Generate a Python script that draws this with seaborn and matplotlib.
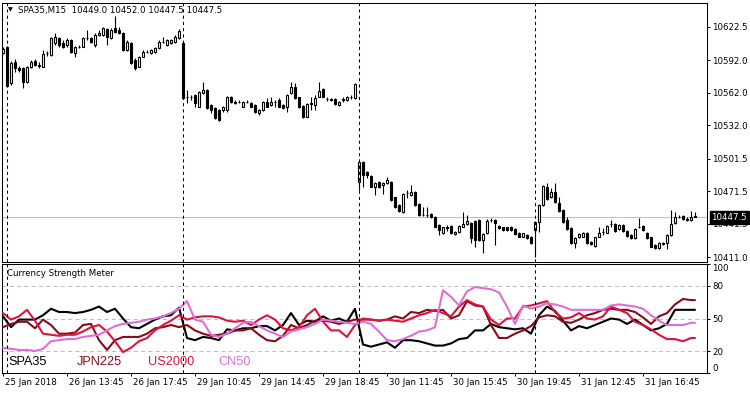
import matplotlib
matplotlib.use("Agg")
import matplotlib.pyplot as plt
import matplotlib.transforms as mtransforms
import numpy as np
import pandas as pd
import seaborn as sns

# ---------------- DATA ----------------
symbol_title = "SPA35,M15  10449.0 10452.0 10447.5 10447.5"
last_price = 10447.5

opens = [
    10598.9, 10604.4, 10570.7, 10590.6, 10585.1, 10584.5, 10572.2, 10586.0, 10591.5, 10587.5,
    10586.0, 10598.3, 10596.7, 10607.5, 10612.1, 10608.1, 10605.9, 10610.5, 10598.9, 10603.8,
    10604.4, 10612.1, 10612.1, 10605.9, 10615.1, 10615.1, 10620.3, 10612.1, 10621.2, 10619.7,
    10616.8, 10601.3, 10608.1, 10592.1, 10586.0, 10595.2, 10599.2, 10598.3, 10599.8, 10602.9,
    10608.4, 10605.9, 10607.5, 10609.0, 10612.1, 10607.5, 10558.4, 10558.4, 10559.9, 10549.2,
    10561.5, 10564.6, 10550.8, 10547.7, 10546.2, 10546.2, 10546.2, 10558.4, 10553.8, 10553.8,
    10549.2, 10553.8, 10552.3, 10550.8, 10543.1, 10546.2, 10553.8, 10550.8, 10553.8, 10555.4,
    10550.8, 10549.2, 10561.5, 10567.0, 10557.8, 10549.8, 10540.0, 10552.3, 10550.8, 10558.4,
    10565.2, 10556.3, 10556.0, 10556.0, 10550.8, 10556.0, 10555.4, 10558.4, 10556.9,
    10479.7, 10498.7, 10489.5, 10485.5, 10475.7, 10480.3, 10477.2, 10478.8, 10480.3, 10465.9,
    10458.8, 10452.7, 10470.2, 10468.0, 10471.1, 10459.8, 10449.6, 10449.6, 10450.6, 10448.1,
    10440.5, 10432.8, 10438.3, 10439.5, 10432.2, 10434.3, 10438.9, 10441.4, 10442.0, 10444.4,
    10445.0, 10426.7, 10432.8, 10445.0, 10445.0, 10439.5, 10438.3, 10438.3, 10438.9, 10436.5,
    10433.4, 10429.7, 10431.3, 10429.7, 10435.9, 10443.5, 10458.8, 10475.7, 10465.9, 10471.1,
    10461.0, 10454.2, 10445.0, 10437.4, 10423.6, 10429.1, 10429.7, 10433.4, 10425.1, 10421.1,
    10429.7, 10434.3, 10433.4, 10441.4, 10441.4, 10436.5, 10440.5, 10435.2, 10431.3, 10428.2,
    10438.9, 10439.5, 10433.4, 10429.1, 10422.1, 10419.0, 10423.0, 10424.2, 10431.3, 10442.0,
    10448.1, 10448.7, 10445.7, 10445.0, 10449.0,
]
highs = [
    10604.4, 10605.0, 10591.5, 10592.7, 10586.6, 10586.0, 10586.6, 10592.1, 10592.7, 10590.6,
    10601.3, 10600.7, 10613.6, 10617.3, 10613.0, 10610.5, 10612.1, 10611.1, 10605.0, 10605.9,
    10613.0, 10619.7, 10613.0, 10616.8, 10619.7, 10622.2, 10621.2, 10621.2, 10632.6, 10622.2,
    10618.2, 10610.5, 10609.0, 10593.7, 10595.8, 10601.3, 10601.3, 10601.9, 10603.8, 10610.5,
    10613.0, 10611.1, 10611.1, 10615.1, 10620.3, 10608.1, 10564.6, 10559.9, 10560.9, 10563.9,
    10572.2, 10565.2, 10551.7, 10548.6, 10546.8, 10549.8, 10559.0, 10559.0, 10555.4, 10555.4,
    10554.7, 10555.4, 10553.8, 10551.7, 10546.8, 10554.7, 10556.9, 10557.8, 10555.4, 10556.9,
    10551.7, 10560.9, 10572.2, 10571.3, 10558.4, 10550.8, 10552.9, 10558.4, 10559.9, 10572.2,
    10566.1, 10557.8, 10557.2, 10556.9, 10554.7, 10557.8, 10559.0, 10559.9, 10570.7,
    10499.3, 10499.3, 10490.4, 10486.4, 10480.3, 10480.9, 10480.3, 10484.9, 10481.2, 10466.5,
    10459.8, 10469.6, 10472.6, 10477.2, 10472.0, 10460.4, 10457.3, 10456.7, 10451.2, 10448.7,
    10441.4, 10438.9, 10440.5, 10440.5, 10435.2, 10440.5, 10452.7, 10449.6, 10443.5, 10445.0,
    10445.7, 10432.8, 10445.7, 10446.6, 10446.0, 10440.5, 10438.9, 10438.9, 10439.5, 10437.4,
    10434.3, 10433.4, 10432.2, 10430.3, 10444.4, 10459.8, 10477.2, 10478.8, 10474.2, 10479.4,
    10466.5, 10454.9, 10448.1, 10438.3, 10429.1, 10432.8, 10434.3, 10434.3, 10426.0, 10429.7,
    10438.9, 10437.4, 10440.5, 10445.0, 10442.6, 10441.4, 10441.4, 10435.9, 10432.2, 10437.4,
    10446.6, 10440.5, 10434.3, 10429.7, 10423.0, 10425.1, 10425.1, 10432.2, 10454.2, 10452.7,
    10449.6, 10449.6, 10447.5, 10453.6, 10452.0,
]
lows = [
    10597.6, 10567.0, 10568.8, 10581.4, 10581.4, 10566.1, 10571.3, 10584.5, 10586.6, 10584.5,
    10585.4, 10595.8, 10595.8, 10605.9, 10604.4, 10602.9, 10604.4, 10598.3, 10595.2, 10602.9,
    10603.8, 10610.5, 10608.1, 10604.4, 10614.2, 10614.2, 10605.9, 10611.1, 10617.3, 10616.0,
    10600.7, 10600.7, 10588.5, 10582.9, 10585.4, 10594.6, 10598.3, 10597.6, 10598.9, 10601.9,
    10607.5, 10605.0, 10606.8, 10608.1, 10611.1, 10556.0, 10552.3, 10555.4, 10549.2, 10548.6,
    10560.9, 10546.8, 10543.1, 10537.6, 10536.4, 10544.6, 10544.6, 10552.9, 10551.7, 10552.3,
    10548.6, 10552.3, 10548.6, 10543.7, 10541.6, 10545.5, 10548.6, 10549.8, 10549.2, 10548.6,
    10546.8, 10544.6, 10560.9, 10556.0, 10547.7, 10538.5, 10539.4, 10546.2, 10546.2, 10557.8,
    10557.8, 10554.7, 10554.1, 10551.1, 10549.8, 10553.8, 10554.7, 10556.0, 10556.0,
    10472.6, 10475.7, 10483.4, 10475.1, 10468.0, 10474.8, 10469.0, 10477.8, 10462.8, 10455.8,
    10452.7, 10451.8, 10465.0, 10467.1, 10457.9, 10448.7, 10448.7, 10448.1, 10447.2, 10438.3,
    10431.3, 10432.2, 10435.2, 10431.9, 10431.3, 10433.4, 10438.3, 10440.5, 10423.6, 10420.5,
    10426.0, 10414.4, 10432.2, 10443.5, 10422.1, 10436.5, 10435.2, 10435.2, 10435.2, 10431.3,
    10429.1, 10429.1, 10427.3, 10423.0, 10411.3, 10434.3, 10457.9, 10463.4, 10465.0, 10461.0,
    10452.7, 10442.6, 10435.9, 10423.0, 10419.0, 10428.2, 10429.1, 10423.0, 10422.1, 10420.5,
    10429.1, 10431.3, 10432.8, 10438.3, 10434.3, 10435.9, 10434.3, 10429.7, 10427.3, 10427.3,
    10437.4, 10435.2, 10427.3, 10419.9, 10418.1, 10418.1, 10422.1, 10418.1, 10430.3, 10441.4,
    10446.6, 10445.0, 10444.4, 10444.4, 10447.5,
]
closes = [
    10601.9, 10568.2, 10589.7, 10584.5, 10582.9, 10572.2, 10586.0, 10590.6, 10587.5, 10586.9,
    10597.6, 10598.9, 10612.1, 10613.0, 10605.9, 10604.4, 10610.5, 10599.8, 10603.8, 10604.4,
    10612.1, 10612.7, 10609.0, 10615.1, 10616.8, 10621.2, 10613.6, 10619.7, 10618.2, 10616.8,
    10601.3, 10609.0, 10589.1, 10584.5, 10595.2, 10599.8, 10599.8, 10601.3, 10602.9, 10609.0,
    10609.0, 10610.5, 10610.5, 10613.6, 10619.1, 10556.9, 10557.8, 10557.8, 10552.3, 10563.0,
    10564.6, 10547.7, 10546.2, 10538.5, 10537.0, 10549.2, 10558.4, 10553.8, 10552.9, 10553.2,
    10553.8, 10553.5, 10549.2, 10544.6, 10546.2, 10553.8, 10549.2, 10553.8, 10553.5, 10549.2,
    10547.7, 10559.9, 10567.0, 10556.9, 10548.6, 10539.4, 10551.7, 10552.0, 10556.9, 10563.9,
    10558.4, 10556.0, 10555.7, 10551.7, 10553.8, 10555.7, 10558.4, 10558.1, 10570.1,
    10498.7, 10486.4, 10486.4, 10475.7, 10479.4, 10475.7, 10479.4, 10481.8, 10463.4, 10456.7,
    10453.6, 10469.0, 10469.9, 10471.1, 10458.8, 10449.6, 10449.3, 10449.3, 10448.1, 10438.9,
    10435.9, 10438.3, 10438.0, 10432.8, 10434.3, 10439.5, 10441.4, 10444.4, 10428.2, 10426.7,
    10426.7, 10431.9, 10444.4, 10444.7, 10442.0, 10437.4, 10435.9, 10435.9, 10435.9, 10432.2,
    10429.7, 10432.8, 10428.2, 10424.2, 10443.5, 10458.8, 10476.3, 10464.1, 10471.1, 10461.9,
    10453.6, 10443.5, 10436.5, 10423.6, 10428.2, 10432.2, 10433.4, 10423.6, 10423.0, 10429.1,
    10432.8, 10434.0, 10439.5, 10441.1, 10435.2, 10440.1, 10435.2, 10430.3, 10428.2, 10436.5,
    10438.6, 10435.9, 10428.2, 10420.5, 10419.0, 10424.2, 10424.2, 10431.3, 10441.4, 10447.5,
    10447.8, 10445.7, 10445.4, 10448.1, 10447.5,
]

# indicator samples (bar index of each sample)
ind_bars = list(range(0, 173, 2)) + [173]
spa35 = [52, 42, 49, 49, 49, 53, 59, 56, 56, 55, 56, 58, 61, 56, 59, 50, 42, 41, 45, 49, 52, 53, 60, 32, 30, 33, 32, 30, 40, 39, 41,
         41, 43, 43, 39, 44, 55, 44, 48, 47, 52, 48, 50, 47, 59, 26, 24, 26, 28, 23, 30, 30, 29, 27, 25, 25, 27, 31, 32, 39, 39, 45, 42,
         41, 40, 41, 36, 53, 61, 57, 48, 39, 43, 41, 44, 47, 50, 49, 45, 49, 44, 39, 41, 45, 58, 58, 58, 58]
jpn225 = [42, 45, 47, 47, 41, 49, 44, 36, 36, 37, 44, 45, 30, 21, 30, 33, 33, 33, 36, 41, 42, 44, 42, 44, 39, 36, 34, 35, 36, 39, 39,
          41, 35, 30, 29, 34, 44, 41, 44, 48, 48, 47, 45, 47, 49, 49, 49, 48, 49, 52, 50, 56, 55, 58, 57, 58, 50, 53, 66, 62, 61, 44, 32,
          32, 36, 39, 43, 51, 53, 52, 47, 46, 49, 53, 55, 58, 59, 58, 58, 56, 51, 45, 52, 55, 63, 68, 67, 67]
us2000 = [55, 49, 52, 58, 48, 36, 35, 34, 35, 35, 38, 42, 44, 38, 29, 19, 23, 29, 32, 39, 44, 48, 53, 49, 51, 52, 52, 51, 48, 47, 48,
          44, 49, 53, 49, 41, 39, 42, 53, 59, 47, 39, 39, 33, 44, 50, 49, 48, 49, 48, 47, 50, 53, 55, 58, 55, 52, 61, 67, 63, 61, 49, 44,
          50, 50, 61, 62, 64, 66, 56, 50, 51, 55, 50, 49, 52, 61, 58, 55, 47, 44, 40, 35, 31, 31, 29, 32, 32]
cn50 = [23, 22, 21, 21, 20, 22, 29, 30, 31, 31, 33, 34, 35, 39, 43, 45, 46, 47, 49, 50, 52, 55, 59, 66, 49, 47, 35, 33, 36, 41, 46,
        47, 43, 39, 36, 33, 38, 40, 42, 45, 49, 48, 47, 46, 45, 47, 45, 38, 30, 29, 31, 34, 38, 39, 42, 76, 70, 62, 75, 79, 78, 77, 74,
        61, 45, 62, 59, 61, 64, 63, 61, 58, 58, 58, 58, 58, 62, 63, 62, 61, 59, 53, 48, 44, 44, 44, 46, 46]
series_names = ["SPA35", "JPN225", "US2000", "CN50"]
series_colors = ["#000000", "#8B0A1A", "#DC143C", "#DA70D6"]

price_ticks = [10622.5, 10592.0, 10562.0, 10532.0, 10501.5, 10471.5, 10441.5, 10411.0]
strength_ticks = [0, 20, 50, 80, 100]
day_separators = [1, 45, 89, 133]
time_tick_bars = [0, 16, 32, 48, 64, 80, 96, 112, 128, 144, 160]
time_tick_labels = ["25 Jan 2018", "26 Jan 13:45", "26 Jan 17:45", "29 Jan 10:45", "29 Jan 14:45",
                    "29 Jan 18:45", "30 Jan 11:45", "30 Jan 15:45", "30 Jan 19:45", "31 Jan 12:45",
                    "31 Jan 16:45"]

# ---------------- STYLE ----------------
sns.set_theme(style="white")
plt.rcParams["font.family"] = ["DejaVu Sans"]
plt.rcParams["axes.edgecolor"] = "black"
plt.rcParams["axes.linewidth"] = 0.75

W, H = 750, 394
fig = plt.figure(figsize=(W / 100, H / 100), dpi=100, facecolor="white")


def px_rect(x0, y0, x1, y1):
    return [x0 / W, 1 - y1 / H, (x1 - x0) / W, (y1 - y0) / H]


ax1 = fig.add_axes(px_rect(1.5, 2.5, 707, 261.5))
ax2 = fig.add_axes(px_rect(1.5, 264.3, 707, 372.7))

# x mapping: bar i sits at pixel 3 + 4 i
xlim = ((1.5 - 3) / 4, (707 - 3) / 4)
TICK_FS = 6.2

# ---------------- PRICE PANEL ----------------
o = np.array(opens); h = np.array(highs); l = np.array(lows); c = np.array(closes)
idx = np.arange(len(o))
bear = c < o
ax1.axhline(last_price, color="#C0C0C0", lw=0.75, zorder=1)
ax1.vlines(idx, l, h, color="black", lw=0.8, zorder=2)
ax1.bar(idx, np.abs(c - o), bottom=np.minimum(o, c), width=0.5,
        color=np.where(bear, "black", "white"), edgecolor="black", linewidth=0.8, zorder=3)
for b in day_separators:
    ax1.axvline(b, color="black", lw=0.75, ls=(0, (3, 3)), zorder=4)
ax1.set_xlim(*xlim)
ax1.set_ylim(10406.9, 10645.0)
ax1.set_xticks([])
ax1.yaxis.tick_right()
ax1.set_yticks(price_ticks)
ax1.set_yticklabels([f"{v:.1f}" for v in price_ticks], fontsize=TICK_FS)
ax1.tick_params(axis="y", right=True, left=False, length=2.2, width=0.75, pad=1.5, colors="black")
ax1.text(1.0 + 4.5 / 705.5, last_price, f"{last_price:.1f}", transform=ax1.get_yaxis_transform(),
         color="white", fontsize=TICK_FS, va="center", ha="left", zorder=10, clip_on=False,
         bbox=dict(boxstyle="square,pad=0.2", fc="black", ec="black"))
for s in ax1.spines.values():
    s.set_color("black"); s.set_linewidth(0.75)

fig.text(8 / W, 1 - 10 / H, "\u25BC", fontsize=4.5, va="center", ha="left", color="black")
fig.text(18.5 / W, 1 - 10 / H, symbol_title, fontsize=TICK_FS, va="center", ha="left", color="black")

# ---------------- STRENGTH PANEL ----------------
vals = spa35 + jpn225 + us2000 + cn50
df = pd.DataFrame({
    "bar": ind_bars * 4,
    "value": vals,
    "series": sum([[n] * len(ind_bars) for n in series_names], []),
})
for y in (20, 50, 80):
    ax2.axhline(y, color="#C0C0C0", lw=0.75, ls=(0, (4, 3)), zorder=1)
sns.lineplot(data=df, x="bar", y="value", hue="series", hue_order=series_names,
             palette=dict(zip(series_names, series_colors)), linewidth=1.5,
             legend=False, ax=ax2, sort=False, estimator=None, zorder=3)
for b in day_separators:
    ax2.axvline(b, color="black", lw=0.75, ls=(0, (3, 3)), zorder=4)
ax2.set_xlim(*xlim)
ax2.set_ylim(0, 100)
ax2.set_xlabel(""); ax2.set_ylabel("")
ax2.yaxis.tick_right()
ax2.set_yticks(strength_ticks)
ax2.set_yticklabels([str(v) for v in strength_ticks], fontsize=TICK_FS)
ax2.tick_params(axis="y", right=True, left=False, length=2.2, width=0.75, pad=1.5, colors="black")
ylabs = ax2.get_yticklabels()
ylabs[0].set_va("bottom")
ylabs[-1].set_va("top")
ax2.set_xticks(time_tick_bars)
ax2.set_xticklabels(time_tick_labels, fontsize=TICK_FS, ha="left")
ax2.tick_params(axis="x", bottom=True, direction="out", length=2.5, width=0.75, pad=1.5, colors="black")
shift = mtransforms.ScaledTranslation(2 / 100, 0, fig.dpi_scale_trans)
for lab in ax2.get_xticklabels():
    lab.set_transform(lab.get_transform() + shift)
for s in ax2.spines.values():
    s.set_color("black"); s.set_linewidth(0.75)

ax2.text((7 - 1.5) / 705.5, 0.917, "Currency Strength Meter", transform=ax2.transAxes,
         fontsize=TICK_FS, va="center", ha="left", color="black")
legend_px = [8.3, 77, 148, 218]
for name, col, px in zip(series_names, series_colors, legend_px):
    ax2.text((px - 1.5) / 705.5, (372.7 - 365) / 108.4, name, transform=ax2.transAxes,
             fontsize=9.2, family=["Liberation Sans", "DejaVu Sans"], color=col,
             va="baseline", ha="left", zorder=6)

fig.savefig("out.png", dpi=100, facecolor="white")
